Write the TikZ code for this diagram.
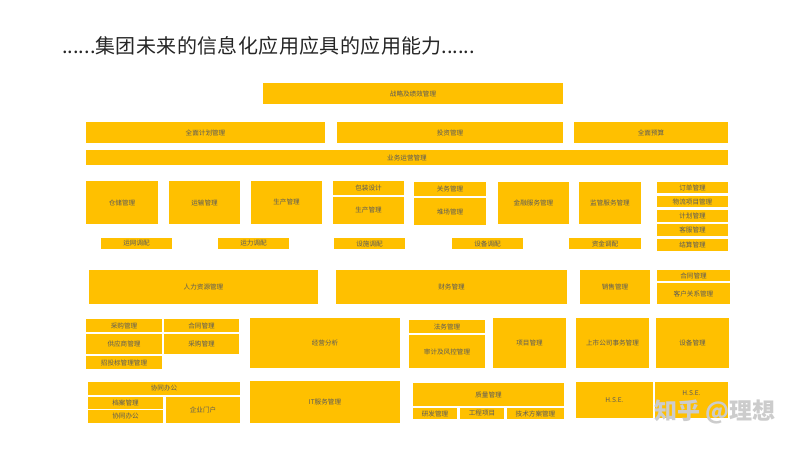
\documentclass[tikz,border=0pt]{standalone}
\usepackage{fontspec}
\setmainfont{Noto Sans CJK SC}
\usepackage{tikz}
\definecolor{gold}{HTML}{FFC000}
\definecolor{ink}{HTML}{5A5A5A}
\tikzset{blk/.style={fill=gold, text=ink, inner sep=0pt, font=\fontsize{6.6}{7}\selectfont}}
% box: name, x1, y1, x2, y2, text (pixel units, y downwards)
\def\bx#1#2#3#4#5#6{\node[blk, minimum width={(#4)-(#2)}, minimum height={(#5)-(#3)}] (#1) at ({((#2)+(#4))/2},{((#3)+(#5))/2}) {#6};}

\begin{document}
\begin{tikzpicture}[x=1pt, y=-1pt]
                \fill[white] (0,0) rectangle (800,449);
                \useasboundingbox (0,0) rectangle (800,449);
                \node[anchor=west, inner sep=0pt, text=black!85, font=\fontsize{20}{20}\selectfont] (title) at (62,46) {......{\addfontfeature{LetterSpace=2}集团未来的信息化应用应具的应用能}力......};
                % top layers
                \bx{zl}{263}{83}{563}{104}{战略及绩效管理}
                \bx{jh}{86}{122}{325}{143}{全面计划管理}
                \bx{tz}{337}{122}{563}{143}{投资管理}
                \bx{ys}{574}{122}{728}{143}{全面预算}
                \bx{yy}{86}{150}{728}{165}{业务运营管理}
                \begin{scope}
                    \bx{cc}{86}{181}{158}{224}{仓储管理}
                    \bx{gs}{169}{181}{240}{224}{运输管理}
                    \bx{sc}{251}{181}{322}{224}{生产管理}
                    \bx{bz}{333}{181}{404}{195}{包装设计}
                    \bx{scb}{333}{197}{404}{224}{生产管理}
                    \bx{gw}{414}{182}{486}{196}{关务管理}
                    \bx{dc}{414}{198}{486}{225}{堆场管理}
                    \bx{jr}{498}{182}{569}{224}{金融服务管理}
                    \bx{jg}{579}{182}{641}{224}{监管服务管理}
                    \bx{dd}{657}{182}{728}{193}{订单管理}
                    \bx{wl}{657}{196}{728}{207}{物流项目管理}
                    \bx{jhg}{657}{210}{728}{222}{计划管理}
                    \bx{kf}{657}{224}{728}{236}{客服管理}
                    \bx{js}{657}{239}{728}{251}{结算管理}
                    \bx{wd}{101}{238}{172}{249}{运网调配}
                    \bx{yl}{218}{238}{289}{249}{运力调配}
                    \bx{ss}{334}{238}{405}{249}{设施调配}
                    \bx{sb}{452}{238}{523}{249}{设备调配}
                    \bx{zj}{569}{238}{641}{249}{资金调配}
                \end{scope}
                \begin{scope}
                    \bx{rl}{89}{270}{318}{304}{人力资源管理}
                    \bx{cw}{336}{270}{567}{304}{财务管理}
                    \bx{xs}{580}{270}{650}{304}{销售管理}
                    \bx{ht}{657}{270}{730}{281}{合同管理}
                    \bx{kh}{657}{283}{730}{304}{客户关系管理}
                \end{scope}
                \begin{scope}
                    \bx{cg}{86}{319}{162}{332}{采购管理}
                    \bx{gy}{86}{334}{162}{354}{供应商管理}
                    \bx{zt}{86}{356}{162}{369}{招投标管理管理}
                    \bx{htb}{164}{319}{239}{332}{合同管理}
                    \bx{cgb}{164}{334}{239}{354}{采购管理}
                    \bx{jy}{250}{318}{400}{368}{经营分析}
                    \bx{fw}{409}{320}{485}{333}{法务管理}
                    \bx{sj}{409}{335}{485}{368}{审计及风控管理}
                    \bx{xm}{493}{318}{566}{368}{项目管理}
                    \bx{gsw}{576}{318}{649}{368}{上市公司事务管理}
                    \bx{sbg}{656}{318}{729}{368}{设备管理}
                \end{scope}
                \begin{scope}
                    \bx{xt}{88}{382}{240}{395}{协同办公}
                    \bx{da}{88}{397}{163}{409}{档案管理}
                    \bx{xtb}{88}{410}{163}{423}{协同办公}
                    \bx{mh}{166}{397}{240}{423}{企业门户}
                    \bx{it}{250}{381}{400}{423}{IT服务管理}
                    \bx{zlg}{413}{383}{564}{406}{质量管理}
                    \bx{yf}{413}{408}{457}{419}{研发管理}
                    \bx{gc}{460}{408}{504}{419}{工程项目}
                    \bx{jsf}{507}{408}{564}{419}{技术方案管理}
                    \bx{hse}{576}{382}{653}{418}{H.S.E.}
                    \bx{hseb}{655}{382}{728}{418}{}
                    \node[blk, fill=none] (hset) at (691.5,393) {H.S.E.};
                \end{scope}
                % watermark
                \node[inner sep=0pt, text=gray!40, font=\fontsize{23}{23}\selectfont\bfseries] (zh) at (715,412) {知乎 @理想};
            \end{tikzpicture}
\end{document}
